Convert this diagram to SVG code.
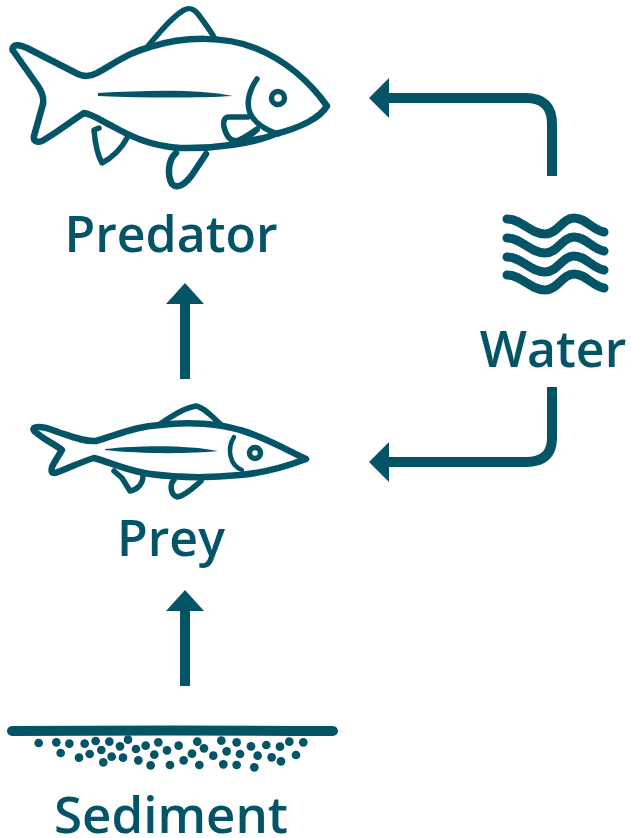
<svg xmlns="http://www.w3.org/2000/svg" width="631" height="838" viewBox="0 0 631 838">
<style>
.l{font-family:"Open Sans","Noto Sans","Liberation Sans",sans-serif;font-weight:600;fill:#045468;text-anchor:middle}
.o{fill:none;stroke:#045468;stroke-linecap:round;stroke-linejoin:round}
.f{fill:#045468}
.c{fill:none;stroke:#045468;stroke-width:10}
.w{fill:none;stroke:#045468;stroke-width:9;stroke-linecap:round}
</style>
<rect width="631" height="838" fill="#fff"/>
<g id="connectors">
<path class="c" d="M185 379V300"/><path class="f" d="M166 304L185 283L204 304Z"/>
<path class="c" d="M185 686V607"/><path class="f" d="M166 611L185 590L204 611Z"/>
<path class="c" d="M552 176V124Q552 98 526 98H385"/><path class="f" d="M389 78L369 98L389 118Z"/>
<path class="c" d="M552 387V438Q552 462 526 462H385"/><path class="f" d="M389 442L369 462L389 482Z"/>
</g>
<g id="predator">
<path class="o" stroke-width="6.5" d="M14 46C18 44 22 46 27 48L74 72C82 77 90 77 97 73C115 63 130 52 150 47C185 36 225 36 255 48C285 60 310 82 327 106C320 118 300 128 275 134C255 143 215 149 180 148C150 146 130 136 112 126C100 120 92 114 84 113C70 122 55 134 42 141C37 143 33 141 34 136L43 104C44 98 42 92 38 86L14 52C12 50 12 48 14 46Z"/>
<path class="o" stroke-width="5.5" d="M148 46C160 32 172 17 184 10C190 7 194 9 198 14C204 22 210 30 214 37"/>
<path class="f" d="M98 93C150 90 200 89 233 96C200 98 150 98 98 96Z"/>
<path class="o" stroke-width="5.5" d="M257 79C249 90 246 103 250 113C255 124 266 130 278 134"/>
<circle class="o" stroke-width="5.5" cx="278" cy="98" r="6.5"/>
<path class="o" stroke-width="5.5" d="M248 117H229C224 117 223 122 224 127C226 135 230 141 236 141C243 139 250 134 257 129"/>
<path class="o" stroke-width="4" d="M258 130L246 140L268 136"/>
<path class="o" stroke-width="5.5" d="M99 128L94 130C95 142 98 156 102 163C112 158 122 148 127 138"/>
<path class="o" stroke-width="6.5" d="M176 153C168 160 167 175 172 184C178 190 186 183 192 175L206 154"/>
</g>
<text id="predator-label" class="l" x="171" y="252" font-size="50">Predator</text>
<g id="prey">
<path class="o" stroke-width="6.5" d="M34 428C40 425 50 429 58 432C70 436 84 442 96 441C115 436 135 426 160 425C190 421 220 424 240 430C262 436 285 449 306 459C285 467 262 473 240 475C210 478 180 478 150 474C128 471 112 463 94 458C80 462 65 470 55 473C50 473 51 468 54 463L62 450C56 445 45 440 38 434C33 431 33 429 34 428Z"/>
<path class="o" stroke-width="5.5" d="M160 424C172 416 184 408 196 406C205 408 214 418 222 426"/>
<path class="f" d="M105 449C140 445 190 445 218 451C190 454 140 454 105 450Z"/>
<path class="o" stroke-width="4.5" d="M234 437C227 448 229 465 242 470"/>
<circle class="o" stroke-width="5.5" cx="255" cy="453" r="5.5"/>
<path class="o" stroke-width="5.5" d="M114 471L122 478L130 491C137 490 143 484 143 476"/>
<path class="o" stroke-width="5.5" d="M174 480C169 485 171 495 177 497C185 496 194 487 201 481"/>
</g>
<text id="prey-label" class="l" x="171" y="556" font-size="50">Prey</text>
<g id="water">
<path class="w" d="M507 219C522 219 530 234 545 234C558 234 562 218 574 218C586 218 592 230 604 232"/>
<path class="w" d="M507 238C522 238 530 253 545 253C558 253 562 237 574 237C586 237 592 249 604 251"/>
<path class="w" d="M507 257C522 257 530 272 545 272C558 272 562 256 574 256C586 256 592 268 604 270"/>
<path class="w" d="M507 275C522 275 530 290 545 290C558 290 562 274 574 274C586 274 592 286 604 288"/>
</g>
<text id="water-label" class="l" x="553" y="367" font-size="50">Water</text>
<g id="sediment">
<path class="o" stroke-width="10" d="M12 731Q170 730 333 731"/>
<g class="f" transform="translate(0 715) scale(.3333)">
<circle cx="116" cy="84" r="13"/><circle cx="169" cy="82" r="13"/><circle cx="208" cy="86" r="13"/><circle cx="254" cy="86" r="13"/><circle cx="287" cy="78" r="13"/><circle cx="328" cy="80" r="13"/><circle cx="384" cy="74" r="13"/><circle cx="475" cy="82" r="13"/><circle cx="592" cy="80" r="13"/><circle cx="664" cy="77" r="13"/><circle cx="710" cy="82" r="13"/><circle cx="868" cy="80" r="13"/><circle cx="910" cy="82" r="13"/><circle cx="182" cy="114" r="13"/><circle cx="237" cy="128" r="13"/><circle cx="269" cy="117" r="13"/><circle cx="304" cy="105" r="13"/><circle cx="360" cy="94" r="13"/><circle cx="408" cy="102" r="13"/><circle cx="437" cy="92" r="13"/><circle cx="501" cy="106" r="13"/><circle cx="536" cy="92" r="13"/><circle cx="612" cy="100" r="13"/><circle cx="680" cy="109" r="13"/><circle cx="753" cy="94" r="13"/><circle cx="799" cy="90" r="13"/><circle cx="840" cy="95" r="13"/><circle cx="335" cy="125" r="13"/><circle cx="369" cy="128" r="13"/><circle cx="310" cy="142" r="13"/><circle cx="415" cy="136" r="13"/><circle cx="463" cy="119" r="13"/><circle cx="576" cy="116" r="13"/><circle cx="640" cy="122" r="13"/><circle cx="720" cy="117" r="13"/><circle cx="773" cy="122" r="13"/><circle cx="815" cy="127" r="13"/><circle cx="888" cy="120" r="13"/><circle cx="452" cy="151" r="13"/><circle cx="510" cy="150" r="13"/><circle cx="551" cy="136" r="13"/><circle cx="598" cy="150" r="13"/><circle cx="670" cy="148" r="13"/><circle cx="710" cy="150" r="13"/><circle cx="763" cy="157" r="13"/><circle cx="843" cy="139" r="13"/>
</g>
</g>
<text id="sediment-label" class="l" x="171" y="833" font-size="51">Sediment</text>
</svg>
